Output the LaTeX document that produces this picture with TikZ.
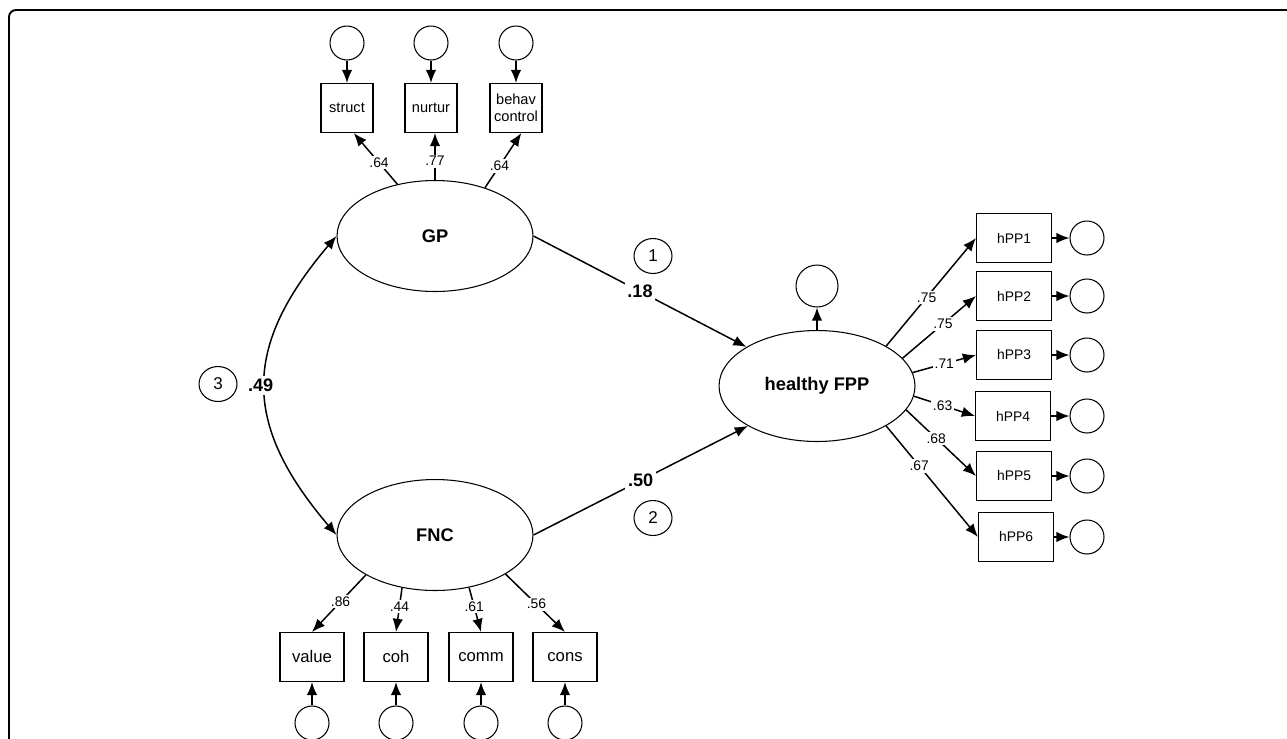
\documentclass[tikz,border=0pt]{standalone}
\usepackage{fontspec}
\setmainfont{Liberation Sans}
\usetikzlibrary{shapes.geometric,positioning,calc,arrows.meta}

\begin{document}
\begin{tikzpicture}[x=0.02cm, y=-0.02cm,
  latent/.style={draw, ellipse, line width=0.6pt, minimum width=3.92cm, minimum height=2.22cm, inner sep=0pt, font=\fontsize{10.4}{12}\selectfont\bfseries},
  obs/.style={draw, rectangle, line width=0.6pt, minimum width=#1, minimum height=0.98cm, inner sep=1pt, align=center, font=\fontsize{8.3}{9.4}\selectfont},
  err/.style={draw, circle, line width=0.6pt, minimum size=0.68cm, inner sep=0pt},
  numcirc/.style={draw, ellipse, line width=0.6pt, minimum width=0.76cm, minimum height=0.7cm, inner sep=0pt, font=\fontsize{9.7}{11}\selectfont},
  load/.style={fill=white, inner sep=1pt, font=\fontsize{7.9}{9}\selectfont},
  coef/.style={fill=white, inner sep=1.5pt, font=\fontsize{10.3}{12}\selectfont\bfseries},
  arr/.style={line width=0.85pt, -{Latex[length=7.5pt,width=6pt]}}
]
  \clip (0,0) rectangle (1287,738);
  % Frame
  \draw[line width=1.1pt, rounded corners=0.14cm] (9,800) -- (9,10) -- (1320,10);

  % Latent variables
  \node[latent] (GP)  at (435,236) {GP};
  \node[latent] (FNC) at (435,535) {FNC};
  \node[latent] (FPP) at (817,386) {healthy FPP};
  \node[err, minimum size=0.84cm] (dFPP) at (817,286) {};
  \draw[arr] (FPP) -- (dFPP);

  % GP indicators
  \node[obs=1.04cm] (struct) at (347,108) {struct};
  \node[obs=1.04cm] (nurtur) at (431,108) {nurtur};
  \node[obs=1.04cm] (behav)  at (516,108) {behav\\control};
  \node[err] (e_struct) at (347,43) {};
  \node[err] (e_nurtur) at (431,43) {};
  \node[err] (e_behav)  at (516,43) {};
  \foreach \v in {struct,nurtur,behav}
    \draw[arr] (e_\v) -- (\v);
  \draw[arr] (GP.126) -- node[load, pos=0.42] {.64} (struct.285);
  \draw[arr] (GP.north) -- node[load, pos=0.4] {.77} (GP.north |- nurtur.south);
  \draw[arr] (GP.44) -- node[load, pos=0.4] {.64} (behav.-78);

  % FNC indicators
  \node[obs=1.28cm, font=\fontsize{9.5}{11}\selectfont] (value) at (312,657) {value};
  \node[obs=1.28cm, font=\fontsize{9.5}{11}\selectfont] (coh)   at (396,657) {coh};
  \node[obs=1.28cm, font=\fontsize{9.5}{11}\selectfont] (comm)  at (481,657) {comm};
  \node[obs=1.28cm, font=\fontsize{9.5}{11}\selectfont] (cons)  at (565,657) {cons};
  \foreach \v in {value,coh,comm,cons} {
    \node[err] (e_\v) at (\v |- 0,723) {};
    \draw[arr] (e_\v) -- (\v);
  }
  \draw[arr] (FNC.210) -- node[load, pos=0.47] {.86} (value.north);
  \draw[arr] (FNC.238) -- node[load, pos=0.43] {.44} (coh.north);
  \draw[arr] (FNC.303) -- node[load, pos=0.43] {.61} (comm.north);
  \draw[arr] (FNC.331) -- node[load, pos=0.52] {.56} (cons.north);

  % healthy FPP indicators
  \foreach \i/\x/\y in {1/1014/238, 2/1014/296, 3/1014/355, 4/1013/416, 5/1014/476, 6/1016/537} {
    \node[obs=1.5cm, font=\fontsize{7.9}{9}\selectfont] (hPP\i) at (\x,\y) {hPP\i};
    \node[err] (e_hPP\i) at (1087,\y) {};
    \draw[arr] (hPP\i) -- (e_hPP\i);
  }
  \draw[arr] (FPP.30)  -- node[load, pos=0.45] {.75} (hPP1.west);
  \draw[arr] (FPP.18)  -- node[load, pos=0.55] {.75} (hPP2.west);
  \draw[arr] (FPP.8)   -- node[load, pos=0.5]  {.71} (hPP3.west);
  \draw[arr] (FPP.-6)  -- node[load, pos=0.47] {.63} (hPP4.west);
  \draw[arr] (FPP.-15) -- node[load, pos=0.43] {.68} (hPP5.west);
  \draw[arr] (FPP.-30) -- node[load, pos=0.36] {.67} (hPP6.west);

  % Structural paths and correlation
  \draw[arr] (GP.east) -- node[coef] (b18) {.18} (FPP.151);
  \draw[arr] (FNC.east) -- node[coef] (b50) {.50} (FPP.210);
  \draw[arr, {Latex[length=7.5pt,width=6pt]}-{Latex[length=7.5pt,width=6pt]}] (GP.west) .. controls (242,347) and (242,424) .. node[coef, pos=0.5, xshift=-0.1cm] (r49) {.49} (FNC.west);
  \node[numcirc] (n1) at (653,256) {1};
  \node[numcirc] (n2) at (653,518) {2};
  \node[numcirc] (n3) at (218,384) {3};
\end{tikzpicture}
\end{document}
